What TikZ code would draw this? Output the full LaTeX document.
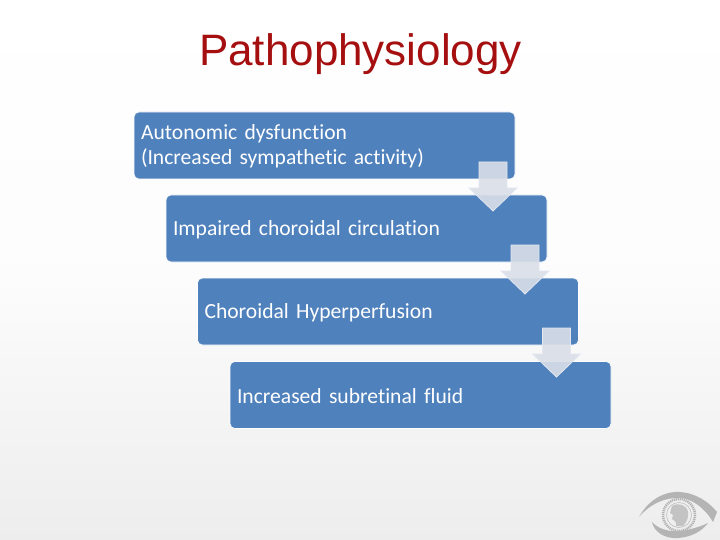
\documentclass[tikz,border=0pt]{standalone}
\usepackage{fontspec}
\setmainfont[Ligatures=NoCommon,WordSpace=0.8]{Carlito}
\newfontfamily\titlefont{Liberation Sans}
\usetikzlibrary{calc}
\definecolor{boxblue}{HTML}{4F81BD}
\definecolor{titlered}{HTML}{A50F0F}
\definecolor{arrowfill}{HTML}{DADFE8}
\definecolor{arrowedge}{HTML}{E2E7F0}
\definecolor{logogray}{HTML}{B4B4B4}
\tikzset{
  x=1pt,y=-1pt,
  flowbox/.style={draw=white,line width=0.6pt,fill=boxblue,rounded corners=5pt,anchor=north west,
    minimum width=381pt,minimum height=67pt,text width=367pt,inner xsep=7pt,inner ysep=0pt,outer sep=0pt,
    align=left,text=white,font=\fontsize{21.6}{24.5}\selectfont,
    execute at begin node={\rule{0pt}{16.5pt}}},
  flowarrow/.pic={
    \path[fill=arrowfill,fill opacity=0.9,draw=arrowedge,line width=0.8pt,line join=miter]
      (-14,-49) -- (14,-49) -- (14,-23) -- (24,-23) -- (0,0) -- (-24,-23) -- (-14,-23) -- cycle;
  },
  logopart/.style={fill=logogray,draw=none}
}
\begin{document}
\begin{tikzpicture}
\useasboundingbox (0,0) rectangle (720,540);
\shade[top color=white,bottom color=white!93!black,middle color=white!99!black] (0,0) rectangle (720,540);
\node[anchor=center,text=titlered,font=\titlefont\fontsize{44}{48}\selectfont] (title) at (360.5,54.5) {Pathophysiology};
\node[flowbox] (b1) at (134,112) {Autonomic dysfunction\\(Increased sympathetic activity)};
\node[flowbox] (b2) at (166,195) {Impaired choroidal circulation};
\node[flowbox] (b3) at (197.5,278) {Choroidal Hyperperfusion};
\node[flowbox] (b4) at (230,361.5) {Increased subretinal fluid};
\pic at ($(b1.south east)+(-22,32)$) {flowarrow};
\pic at ($(b2.south east)+(-22,32)$) {flowarrow};
\pic at ($(b3.south east)+(-22,32)$) {flowarrow};
% logo
\path[logopart] (639,517) .. controls (650,497) and (668,491) .. (680,492)
  .. controls (695,493) and (708,501) .. (717,512) -- (713,522)
  .. controls (705,508) and (692,499) .. (681,498)
  .. controls (665,497) and (650,504) .. (639,517) -- cycle;
\path[logopart] (652,522) .. controls (660,531) and (675,533) .. (687,530)
  .. controls (695,528) and (702,526) .. (708,523)
  .. controls (702,531) and (692,537) .. (678,538)
  .. controls (665,539) and (654,532) .. (652,522) -- cycle;
\draw[logogray,line width=2.5pt,dash pattern=on 1.2pt off 0.8pt] (679,515) circle (16);
\draw[logogray!85,line width=0.6pt] (679,515) circle (12.5);
\path[fill=logogray!80] (672,506) .. controls (678,502) and (687,505) .. (688,512)
  .. controls (689,518) and (686,523) .. (683,526)
  -- (676,526) .. controls (677,522) and (674,520) .. (672,519)
  -- (673,515) -- (670,513) -- cycle;
\end{tikzpicture}
\end{document}
